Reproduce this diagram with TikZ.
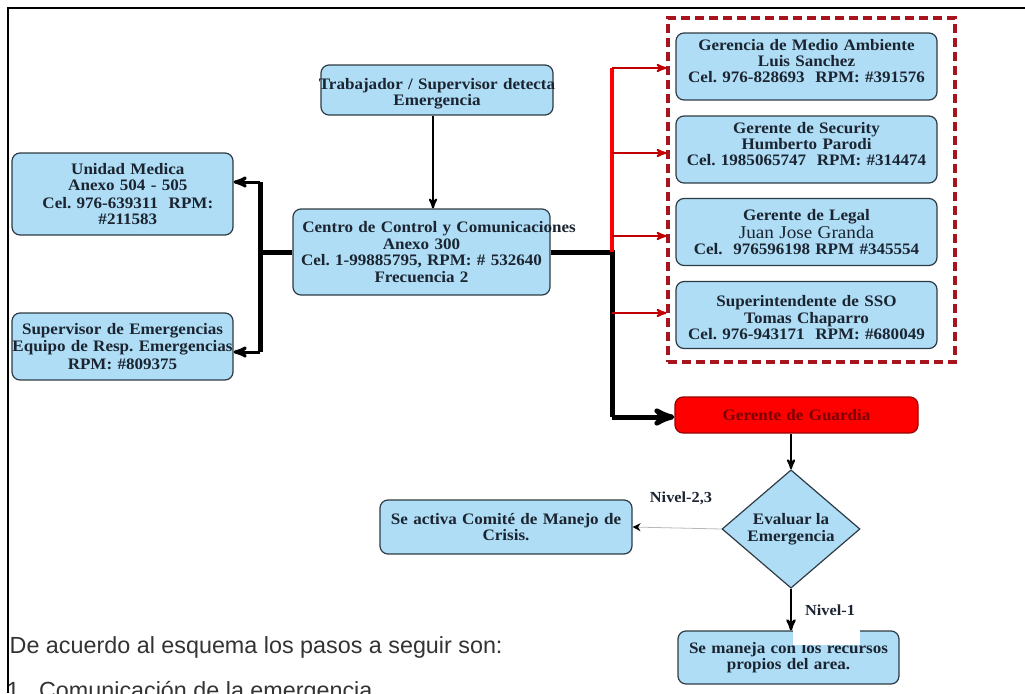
\documentclass[tikz,border=0pt]{standalone}
\usepackage{fontspec}
\setmainfont{Liberation Serif}
\newfontfamily\boxfont{Liberation Serif}[FakeStretch=1.065]
\newfontfamily\arialfont{Liberation Sans}
\usepackage{tikz}
\usetikzlibrary{arrows,arrows.meta,shapes.geometric}
\definecolor{boxblue}{HTML}{AEDDF5}
\definecolor{boxline}{HTML}{2E3B44}
\definecolor{boxtext}{HTML}{1B2430}
\definecolor{grpred}{HTML}{A8141D}
\definecolor{arrowred}{HTML}{C00000}
\definecolor{guardtext}{HTML}{7A0000}
\frenchspacing

\begin{document}
\begin{tikzpicture}[x=0.75pt,y=-0.75pt,>=stealth',
  box/.style={draw=boxline, fill=boxblue, rounded corners=6pt, line width=0.9pt,
    align=center, inner xsep=0pt, inner ysep=2pt, text=boxtext,
    font=\boxfont\bfseries\fontsize{12}{12.3}\selectfont},
  telbox/.style={box, text width=195.75pt, minimum height=50.25pt},
  guardbox/.style={box, fill=red, draw=red!60!black, text=guardtext},
  decision/.style={diamond, draw=boxline, fill=boxblue, line width=0.9pt,
    align=center, inner sep=0pt, text=boxtext,
    font=\boxfont\bfseries\fontsize{12}{12.5}\selectfont},
  nivel/.style={font=\boxfont\bfseries\fontsize{11.5}{12}\selectfont, text=boxtext},
  thick line/.style={line width=3.75pt},
  redline/.style={draw=arrowred, line width=1.5pt}]

  \useasboundingbox (0,0) rectangle (1025,693);

  \node[draw=grpred, line width=2.4pt, dash pattern=on 6.5pt off 4pt,
        minimum width=215.25pt, minimum height=258pt] (grp) at (811.5,190) {};

  \node[box, text width=174pt, minimum height=37.5pt] (trab) at (437,90)
    {\mbox{}\\[2pt]\makebox[\linewidth]{Trabajador / Supervisor detecta}\\ Emergencia};
  \node[box, text width=192.75pt, minimum height=64.5pt] (centro) at (421.5,252)
    {\hspace*{7pt}\mbox{Centro de Control y Comunicaciones}\\ Anexo 300\\ Cel. 1-99885795, RPM: \# 532640\\ Frecuencia 2};
  \node[box, text width=165.75pt, minimum height=61.5pt] (uni) at (122.5,194)
    {\hspace*{8pt}Unidad Medica\\ \hspace*{8pt}Anexo 504 - 505\\[1pt] \hspace*{8pt}Cel. 976-639311\ \ RPM:\\ \hspace*{8pt}\#211583};
  \node[box, text width=165.75pt, minimum height=50.25pt] (sup) at (122.5,346.5)
    {Supervisor de Emergencias\\ \makebox[\linewidth]{Equipo de Resp. Emergencias}\\[1pt] RPM: \#809375};

  \node[telbox] (medio) at (806.5,66.5)
    {Gerencia de Medio Ambiente\\ Luis Sanchez\\ Cel. 976-828693\ \ RPM: \#391576\\[-4pt]\mbox{}};
  \node[telbox] (secu) at (806.5,149.5)
    {Gerente de Security\\ Humberto Parodi\\ Cel. 1985065747\ \ RPM: \#314474\\[-4pt]\mbox{}};
  \node[telbox] (legal) at (806.5,232)
    {Gerente de Legal\\[1pt] {\mdseries\fontsize{13.5}{14}\selectfont Juan Jose Granda}\\ Cel.\ \ 976596198 RPM \#345554};
  \node[telbox] (sso) at (806.5,315)
    {\mbox{}\\[0pt]Superintendente de SSO\\ Tomas Chaparro\\ Cel. 976-943171\ \ RPM: \#680049};

  \node[guardbox, text width=182.25pt, minimum height=27pt] (guard) at (796.5,415)
    {Gerente de Guardia};
  \node[decision, minimum width=103.5pt, minimum height=73.5pt] (eval) at (791,529)
    {Evaluar la\\ Emergencia};
  \node[box, text width=189pt, minimum height=40.5pt] (crisis) at (506,527)
    {Se activa Comit\'e de Manejo de\\ Crisis.};
  \node[box, text width=165.75pt, minimum height=39.75pt] (propios) at (788.5,657.5)
    {Se maneja con los recursos\\ propios del area.};
  \fill[white] (793,623) rectangle (860,645);

  \coordinate (lj) at (260,252);
  \coordinate (lt) at (260,182);
  \coordinate (lb) at (260,352);
  \coordinate (rj) at (612,252);
  \coordinate (rt) at (612,68);
  \coordinate (rg) at (612,417);

  \draw[->, line width=1.5pt] ([xshift=-3pt]trab.south) -- ([xshift=-3pt]trab.south |- centro.north);
  \draw[thick line] (centro.west) -- (lj);
  \draw[thick line] (lt) -- (lb);
  \draw[->, line width=2.25pt] (lt) -- (lt -| uni.east);
  \draw[->, line width=2.25pt] (lb) -- (lb -| sup.east);

  \draw[thick line] (centro.east |- rj) -- (rj) -- (rg);
  \draw[->, thick line] (rg) -- (guard.west |- rg);
  \draw[red, line width=3pt] (rt) -- (rj);
  \draw[->, redline] (rt) -- (rt -| grp.west);
  \draw[->, redline] (612,153) -- (grp.west |- 612,153);
  \draw[->, redline] (612,236) -- (grp.west |- 612,236);
  \draw[->, redline] (612,313) -- (grp.west |- 612,313);

  \draw[->, line width=1.5pt] (eval.north |- guard.south) -- (eval.north);
  \draw[gray!55, line width=0.6pt, -{Stealth[black, length=6pt, width=6pt]}] (eval.west) -- (crisis.east);
  \draw[->, line width=1.8pt] (eval.south) -- (eval.south |- propios.north);
  \node[nivel] (n23) at (681,498) {Nivel-2,3};
  \node[nivel] (n1) at (830,610) {Nivel-1};

  \node[anchor=base west, text=black!80, font=\arialfont\fontsize{17.5}{19}\selectfont] (txt1) at (5,653)
    {De acuerdo al esquema los pasos a seguir son:};
  \node[anchor=base west, text=black!80, font=\arialfont\fontsize{17.5}{19}\selectfont] (txt2) at (2,698)
    {1.\ \ Comunicaci\'on de la emergencia};

  \draw[line width=1.5pt] (8,693) -- (8,8) -- (1025,8);
\end{tikzpicture}
\end{document}
